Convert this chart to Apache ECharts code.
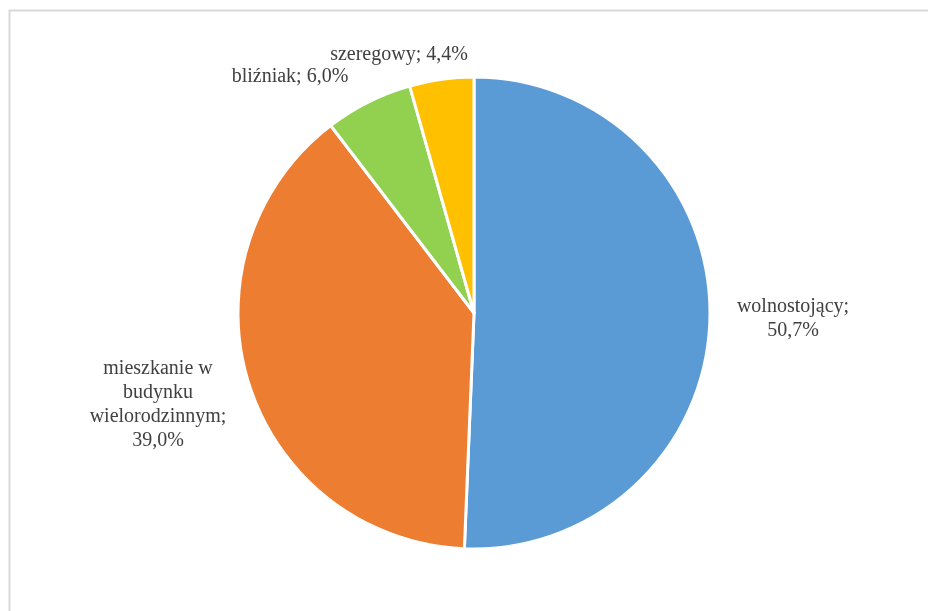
<!DOCTYPE html>
<html>
<head>
<meta charset="utf-8">
<script src="https://cdn.jsdelivr.net/npm/echarts@6/dist/echarts.min.js"></script>
<style>
  html, body { margin: 0; padding: 0; background: #fff; }
  #main { width: 928px; height: 611px; }
</style>
</head>
<body>
<div id="main"></div>
<script>
const categories = ['wolnostojący', 'mieszkanie w budynku wielorodzinnym', 'bliźniak', 'szeregowy'];
const labelNames = ['wolnostojący;', 'mieszkanie w\nbudynku\nwielorodzinnym;', 'bliźniak;', 'szeregowy;'];
const values = [50.7, 39.0, 6.0, 4.4];
const colors = ['#5B9BD5', '#ED7D31', '#92D050', '#FFC000'];
// where Excel put each label (centre of text block)
const labelPos = [[793, 319], [158, 405], [290, 77], [399, 55]];
const labelSeparators = ['\n', '\n', ' ', ' '];

const chart = echarts.init(document.getElementById('main'));

const pieData = categories.map((name, i) => ({
  name: name,
  value: values[i],
  itemStyle: { color: colors[i] }
}));

const option = {
  animation: false,
  graphic: [
    {
      type: 'rect',
      left: 7, top: 8,
      shape: { width: 960, height: 700 },
      style: { fill: 'none', stroke: '#d9d9d9', lineWidth: 2 },
      silent: true
    }
  ],
  series: [
    {
      type: 'pie',
      center: [474, 313],
      radius: 236,
      startAngle: 90,
      clockwise: true,
      data: pieData,
      itemStyle: { borderColor: '#fff', borderWidth: 3 },
      label: {
        show: true,
        position: 'outside',
        fontFamily: 'Liberation Serif',
        fontSize: 20,
        lineHeight: 24,
        color: '#404040',
        align: 'center',
        formatter: p => labelNames[p.dataIndex] + labelSeparators[p.dataIndex] +
          p.value.toFixed(1).replace('.', ',') + '%'
      },
      labelLine: { show: false },
      labelLayout: p => ({
        x: labelPos[p.dataIndex][0],
        y: labelPos[p.dataIndex][1],
        align: 'center',
        verticalAlign: 'middle'
      })
    }
  ]
};
chart.setOption(option);
</script>
</body>
</html>
